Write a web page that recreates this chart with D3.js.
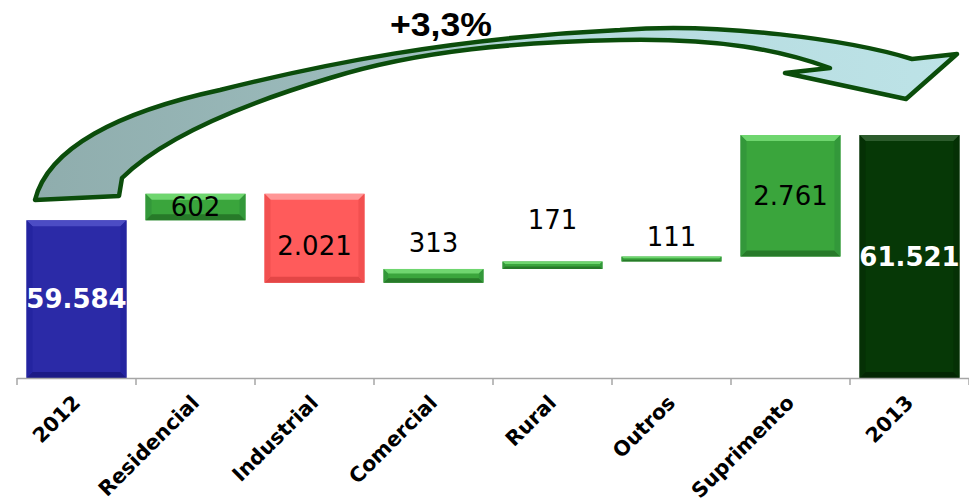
<!DOCTYPE html>
<html>
<head>
<meta charset="utf-8">
<script src="https://cdnjs.cloudflare.com/ajax/libs/d3/7.8.5/d3.min.js"></script>
<style>
  body { margin: 0; background: #fff; }
  svg { display: block; }
</style>
</head>
<body>
<div id="chart"></div>
<script>
// data
var categories = ["2012", "Residencial", "Industrial", "Comercial", "Rural", "Outros", "Suprimento", "2013"];
var values = [59584, 602, -2021, 313, 171, 111, 2761, 61521];
var kinds = ["total", "up", "down", "up", "up", "up", "up", "total"];
var growthLabel = "+3,3%";

var w = 969, h = 502;

// brazilian number format: 59.584
var ptBR = d3.formatLocale({ decimal: ",", thousands: ".", grouping: [3], currency: ["R$", ""] });
var fmt = ptBR.format(",d");

// cumulative start / end for each bar
var rows = [];
var run = 0;
for (var i = 0; i < categories.length; i++) {
    var s, e;
    if (kinds[i] == "total") { s = 0; e = values[i]; run = values[i]; }
    else { s = run; e = run + values[i]; run = e; }
    rows.push({ cat: categories[i], v: values[i], kind: kinds[i], start: s, end: e, i: i });
}

var x = d3.scaleBand()
    .domain(categories)
    .range([17, 969])
    .paddingInner(0.16)
    .paddingOuter(0.08);

// the axis is broken: bars start from 56.000
var y = d3.scaleLinear()
    .domain([56000, 62000])
    .range([378, 114]);

var colors = {
    total0: { base: "#2b2aa7", light: "#4c4cc4", dark: "#1c1b86", side: "#2424a0" },
    up:     { base: "#3aa53c", light: "#6fd66f", dark: "#277a29", side: "#33983a" },
    down:   { base: "#ff5b5b", light: "#ff9696", dark: "#e34646", side: "#f25050" },
    total1: { base: "#063806", light: "#2d5c2d", dark: "#032603", side: "#053005" }
};

// vertical tweak for each value label (px), to sit where the original puts them
var labelShift = [0, 0, 8, -33, -45, -22, 0, 0];

var svg = d3.select("#chart")
    .append("svg")
    .attr("width", w)
    .attr("height", h);

var defs = svg.append("defs");
var grad = defs.append("linearGradient")
    .attr("id", "arrowFill")
    .attr("gradientUnits", "userSpaceOnUse")
    .attr("x1", 35).attr("x2", 960).attr("y1", 0).attr("y2", 0);
grad.append("stop").attr("offset", 0).attr("stop-color", "#8fadad");
grad.append("stop").attr("offset", 0.4).attr("stop-color", "#9dbdbe");
grad.append("stop").attr("offset", 0.52).attr("stop-color", "#b4d9dd");
grad.append("stop").attr("offset", 1).attr("stop-color", "#bde3e7");

// curved arrow 2012 -> 2013
var arrowPath = "M35,200 C48,148 118,112 220,90 C320,65 450,38 620,30 C720,22 850,40 912,59" +
    " L957,54 L906,99 L785,73 L830,68" +
    " C780,50 720,38 620,40 C520,42 420,50 330,78 C230,108 160,140 122,178 L119,196 Z";
svg.append("path")
    .attr("d", arrowPath)
    .attr("fill", "url(#arrowFill)")
    .attr("stroke", "#0b4d0b")
    .attr("stroke-width", 4.5)
    .attr("stroke-linejoin", "round");

svg.append("text")
    .attr("x", 441)
    .attr("y", 36)
    .attr("text-anchor", "middle")
    .attr("font-family", "Liberation Sans, Arial, sans-serif")
    .attr("font-weight", "bold")
    .attr("font-size", 33)
    .attr("textLength", 102)
    .attr("lengthAdjust", "spacingAndGlyphs")
    .attr("fill", "#000")
    .text(growthLabel);

// bars with a bevel look
var bw = x.bandwidth();
var bars = svg.selectAll("g.bar")
    .data(rows)
    .enter()
    .append("g")
    .attr("class", "bar");

bars.each(function(d) {
    var g = d3.select(this);
    var c = d.kind == "up" ? colors.up : d.kind == "down" ? colors.down : (d.i == 0 ? colors.total0 : colors.total1);
    var x0 = x(d.cat);
    var y0 = y(Math.max(d.start, d.end));
    var y1 = y(Math.min(d.start, d.end));
    if (d.kind == "total") y1 = y(y.domain()[0]);
    var hh = y1 - y0;
    var b = Math.min(6, hh / 3);

    g.append("rect")
        .attr("x", x0).attr("y", y0)
        .attr("width", bw).attr("height", hh)
        .attr("fill", c.base);
    // top bevel
    g.append("path")
        .attr("d", "M" + x0 + "," + y0 + "L" + (x0 + bw) + "," + y0 + "L" + (x0 + bw - b) + "," + (y0 + b) + "L" + (x0 + b) + "," + (y0 + b) + "Z")
        .attr("fill", c.light);
    // bottom bevel
    g.append("path")
        .attr("d", "M" + x0 + "," + y1 + "L" + (x0 + bw) + "," + y1 + "L" + (x0 + bw - b) + "," + (y1 - b) + "L" + (x0 + b) + "," + (y1 - b) + "Z")
        .attr("fill", c.dark);
    // sides
    g.append("path")
        .attr("d", "M" + x0 + "," + y0 + "L" + (x0 + b) + "," + (y0 + b) + "L" + (x0 + b) + "," + (y1 - b) + "L" + x0 + "," + y1 + "Z")
        .attr("fill", c.side);
    g.append("path")
        .attr("d", "M" + (x0 + bw) + "," + y0 + "L" + (x0 + bw - b) + "," + (y0 + b) + "L" + (x0 + bw - b) + "," + (y1 - b) + "L" + (x0 + bw) + "," + y1 + "Z")
        .attr("fill", c.side);

    var isTotal = d.kind == "total";
    g.append("text")
        .attr("x", x0 + bw / 2)
        .attr("y", (y0 + y1) / 2 + labelShift[d.i])
        .attr("dy", "0.35em")
        .attr("text-anchor", "middle")
        .attr("font-family", "DejaVu Sans, Verdana, sans-serif")
        .attr("font-weight", isTotal ? "bold" : "normal")
        .attr("font-size", 26)
        .attr("fill", isTotal ? "#fff" : "#000")
        .text(fmt(Math.abs(d.v)));
});

// category axis
var axis = svg.append("g").attr("class", "axis");
axis.append("line")
    .attr("x1", x.range()[0]).attr("x2", x.range()[1])
    .attr("y1", 378.5).attr("y2", 378.5)
    .attr("stroke", "#a6a6a6").attr("stroke-width", 1.5);

var bounds = categories.map(function(c) { return x(c) - x.step() * x.paddingInner() / 2; });
bounds.push(x.range()[1]);
axis.selectAll("line.tick")
    .data(bounds)
    .enter()
    .append("line")
    .attr("class", "tick")
    .attr("x1", function(d) { return d; })
    .attr("x2", function(d) { return d; })
    .attr("y1", 378)
    .attr("y2", 385)
    .attr("stroke", "#a6a6a6").attr("stroke-width", 1.5);

axis.selectAll("text")
    .data(categories)
    .enter()
    .append("text")
    .attr("transform", function(d) {
        return "translate(" + (x(d) + bw / 2 + 5) + ",404) rotate(-45)";
    })
    .attr("text-anchor", "end")
    .attr("font-family", "DejaVu Sans, Verdana, sans-serif")
    .attr("font-weight", "bold")
    .attr("font-size", 20.5)
    .attr("fill", "#000")
    .text(function(d) { return d; });
</script>
</body>
</html>
